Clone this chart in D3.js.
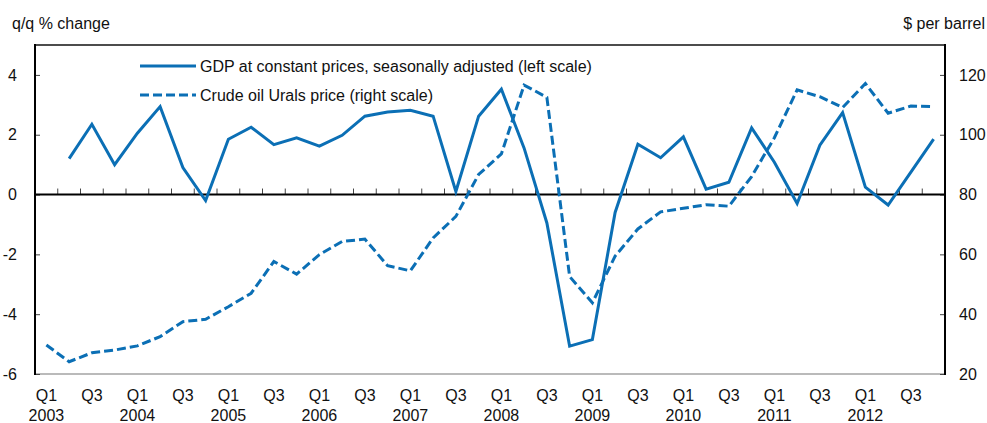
<!DOCTYPE html>
<html>
<head>
<meta charset="utf-8">
<script src="https://cdn.jsdelivr.net/npm/d3@7"></script>
<style>
  body { margin: 0; background: #fff; }
  svg text { font-family: "Liberation Sans", Arial, sans-serif; fill: #111; }
</style>
</head>
<body>
<div id="container"></div>
<script>
const width = 987;
const height = 423;
const margin = { top: 45, right: 42, bottom: 49, left: 35 };
const blue = "#0b6fb5";

// quarters 2003 Q1 .. 2012 Q4
const years = [2003, 2004, 2005, 2006, 2007, 2008, 2009, 2010, 2011, 2012];
const quarters = ["Q1", "Q2", "Q3", "Q4"];

// GDP q/q % change (left scale), starts Q2 2003
const gdp = [null, 1.2, 2.35, 1.0, 2.05, 2.94, 0.9, -0.2, 1.85, 2.25,
  1.67, 1.9, 1.62, 1.98, 2.62, 2.76, 2.82, 2.62, 0.1, 2.62,
  3.52, 1.55, -0.95, -5.07, -4.85, -0.6, 1.68, 1.23, 1.93, 0.18,
  0.41, 2.23, 1.08, -0.3, 1.65, 2.74, 0.25, -0.35, 0.75, 1.85];

// Urals crude price, $ per barrel (right scale)
const oil = [29.7, 24.1, 27.1, 28.0, 29.4, 32.5, 37.5, 38.3, 42.5, 47.0,
  57.6, 53.4, 59.9, 64.3, 65.1, 56.2, 54.5, 65.5, 72.7, 86.7,
  93.6, 116.6, 112.5, 52.6, 43.8, 59.4, 68.5, 74.2, 75.4, 76.6,
  76.1, 86, 99, 115, 112.7, 109.1, 117.1, 107.2, 109.6, 109.4];

const leftTicks = [-6, -4, -2, 0, 2, 4];
const rightTicks = [20, 40, 60, 80, 100, 120];

const labels = [];
years.forEach((y) => quarters.forEach((q) => labels.push({ year: y, q: q })));

const svg = d3.select("#container").append("svg")
  .attr("width", width).attr("height", height);

const x = d3.scaleBand()
  .domain(d3.range(labels.length))
  .range([margin.left, width - margin.right]);
const cx = (i) => x(i) + x.bandwidth() / 2;

const yL = d3.scaleLinear([-6, 5], [height - margin.bottom, margin.top]);
const yR = d3.scaleLinear([20, 130], [height - margin.bottom, margin.top]);

const x0 = margin.left, x1 = width - margin.right;
const y0 = margin.top, y1 = height - margin.bottom;

// frame
svg.append("line").attr("x1", x0).attr("x2", x1).attr("y1", y0).attr("y2", y0)
  .attr("stroke", "#111").attr("stroke-width", 1.5);
svg.append("line").attr("x1", x0).attr("x2", x1).attr("y1", y1).attr("y2", y1)
  .attr("stroke", "#777").attr("stroke-width", 1.2);

// left axis
const leftAx = svg.append("g").attr("transform", `translate(${x0},0)`)
  .call(d3.axisRight(yL).tickValues(leftTicks).tickSize(5).tickFormat(""));
leftAx.select(".domain").remove();
leftAx.selectAll("line").attr("stroke", "#444");
svg.append("g").selectAll("text").data(leftTicks).join("text")
  .attr("x", x0 - 18).attr("y", (d) => yL(d)).attr("dy", "0.36em")
  .attr("text-anchor", "end").style("font-size", "16px").text((d) => d);

// right axis
const rightAx = svg.append("g").attr("transform", `translate(${x1},0)`)
  .call(d3.axisLeft(yR).tickValues(rightTicks).tickSize(5).tickFormat(""));
rightAx.select(".domain").remove();
rightAx.selectAll("line").attr("stroke", "#444");
svg.append("g").selectAll("text").data(rightTicks).join("text")
  .attr("x", x1 + 14).attr("y", (d) => yR(d)).attr("dy", "0.36em")
  .attr("text-anchor", "start").style("font-size", "16px").text((d) => d);

// zero line with quarter ticks
svg.append("g").selectAll("line").data(d3.range(1, labels.length)).join("line")
  .attr("x1", (i) => x(i)).attr("x2", (i) => x(i))
  .attr("y1", yL(0)).attr("y2", yL(0) - 6)
  .attr("stroke", "#444").attr("stroke-width", 1);
svg.append("line").attr("x1", x0).attr("x2", x1).attr("y1", yL(0)).attr("y2", yL(0))
  .attr("stroke", "#000").attr("stroke-width", 2);

svg.append("line").attr("x1", x0).attr("x2", x0).attr("y1", y0 - 1).attr("y2", y1 + 1)
  .attr("stroke", "#000").attr("stroke-width", 2);
svg.append("line").attr("x1", x1).attr("x2", x1).attr("y1", y0 - 1).attr("y2", y1 + 1)
  .attr("stroke", "#000").attr("stroke-width", 2);

// x labels (Q1 and Q3 only, year under Q1)
const xl = svg.append("g").style("font-size", "16px").attr("text-anchor", "middle");
labels.forEach((d, i) => {
  if (d.q === "Q1" || d.q === "Q3") {
    xl.append("text").attr("x", cx(i)).attr("y", 401).text(d.q);
  }
  if (d.q === "Q1") {
    xl.append("text").attr("x", cx(i)).attr("y", 421).text(d.year);
  }
});

// series
const oilLine = d3.line().x((d, i) => cx(i)).y((d) => yR(d));
const gdpLine = d3.line().defined((d) => d !== null).x((d, i) => cx(i)).y((d) => yL(d));

svg.append("path").datum(oil).attr("d", oilLine)
  .attr("fill", "none").attr("stroke", blue).attr("stroke-width", 3)
  .attr("stroke-dasharray", "9,4");
svg.append("path").datum(gdp).attr("d", gdpLine)
  .attr("fill", "none").attr("stroke", blue).attr("stroke-width", 3)
  .attr("stroke-linejoin", "miter");

// legend
const legend = svg.append("g").style("font-size", "16px");
const legendItems = [
  { label: "GDP at constant prices, seasonally adjusted (left scale)", dash: null, y: 66 },
  { label: "Crude oil Urals price (right scale)", dash: "9,4", y: 95 }
];
legendItems.forEach((d) => {
  legend.append("line").attr("x1", 140).attr("x2", 196).attr("y1", d.y).attr("y2", d.y)
    .attr("stroke", blue).attr("stroke-width", 3)
    .attr("stroke-dasharray", d.dash);
  legend.append("text").attr("x", 200).attr("y", d.y).attr("dy", "0.36em").text(d.label);
});

// axis titles
svg.append("text").attr("x", 12).attr("y", 29).style("font-size", "16px").text("q/q % change");
svg.append("text").attr("x", 985).attr("y", 29).attr("text-anchor", "end")
  .style("font-size", "16px").text("$ per barrel");
</script>
</body>
</html>
